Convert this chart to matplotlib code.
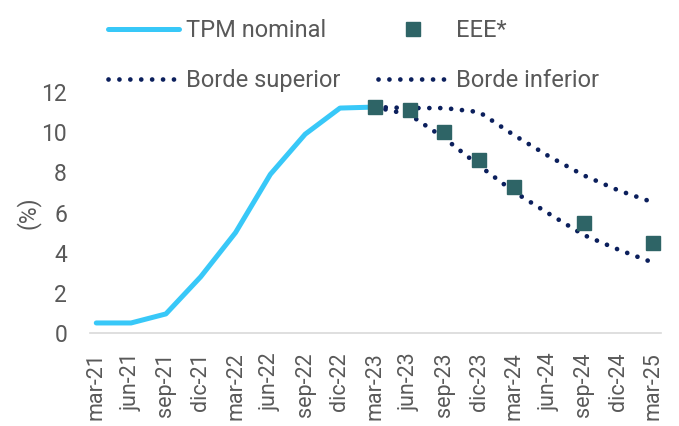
import numpy as np
import matplotlib
matplotlib.use("Agg")
import matplotlib.pyplot as plt

plt.rcParams['font.family'] = ['Roboto', 'DejaVu Sans']

nan = np.nan
categories = ['mar-21', 'jun-21', 'sep-21', 'dic-21', 'mar-22', 'jun-22', 'sep-22', 'dic-22',
              'mar-23', 'jun-23', 'sep-23', 'dic-23', 'mar-24', 'jun-24', 'sep-24', 'dic-24', 'mar-25']
tpm_nominal = [0.5, 0.5, 0.95, 2.8, 5.0, 7.9, 9.9, 11.2, 11.25,
               nan, nan, nan, nan, nan, nan, nan, nan]
eee = [nan, nan, nan, nan, nan, nan, nan, nan,
       11.25, 11.1, 10.0, 8.6, 7.25, nan, 5.5, nan, 4.5]
borde_superior = [nan, nan, nan, nan, nan, nan, nan, nan,
                  11.25, 11.2, 11.2, 11.0, 9.85, 8.8, 7.85, 7.1, 6.5]
borde_inferior = [nan, nan, nan, nan, nan, nan, nan, nan,
                  11.25, 10.87, 9.7, 8.33, 7.03, 5.94, 4.88, 4.15, 3.5]
yticks = [0, 2, 4, 6, 8, 10, 12]

gray = '#595959'
fig = plt.figure(figsize=(6.79, 4.26), dpi=100)
ax = fig.add_axes([90/679, 1-333/426, (661-90)/679, (333-92)/426])
x = np.arange(len(categories))

dot_style = (0, (0.01, 2.3))
h_tpm, = ax.plot(x, tpm_nominal, color='#38C8F8', lw=3.6, solid_capstyle='round', label='TPM nominal', zorder=2)
h_eee, = ax.plot(x, eee, linestyle='none', marker='s', markersize=10, color='#2E6466', label='EEE*', zorder=4)
h_sup, = ax.plot(x, borde_superior, color='#0B1F5C', lw=3.4, linestyle=dot_style, dash_capstyle='round',
                 label='Borde superior', zorder=3)
h_inf, = ax.plot(x, borde_inferior, color='#0B1F5C', lw=3.4, linestyle=dot_style, dash_capstyle='round',
                 label='Borde inferior', zorder=3)

ax.set_xlim(-0.18, 16.22)
ax.set_ylim(0, 12)
ax.set_yticks(yticks)
ax.set_yticklabels([str(t) for t in yticks])
ax.set_xticks(x)
ax.set_xticklabels(categories, rotation=90)
ax.tick_params(axis='y', length=0, labelsize=16.5, colors=gray, pad=16.5)
ax.tick_params(axis='x', length=0, labelsize=15.5, colors=gray, pad=14)
for s in ['top', 'right', 'left']:
    ax.spines[s].set_visible(False)
ax.spines['bottom'].set_color('#D9D9D9')
ax.spines['bottom'].set_linewidth(1.2)
fig.text(28/679, 1 - 213/426, '(%)', rotation=90, fontsize=16.5, color=gray,
         ha='center', va='center')

handles = [h_tpm, h_sup, h_eee, h_inf]
labels = [h.get_label() for h in handles]
leg = fig.legend(handles, labels, loc='upper left', bbox_to_anchor=(108/679, 1 - 19/426), ncol=2,
                 frameon=False, fontsize=17, handlelength=3.0, handletextpad=0.3, columnspacing=1.6,
                 labelspacing=1.15, borderaxespad=0, borderpad=0)
for t in leg.get_texts():
    t.set_color(gray)

fig.savefig('out.png', dpi=100)
